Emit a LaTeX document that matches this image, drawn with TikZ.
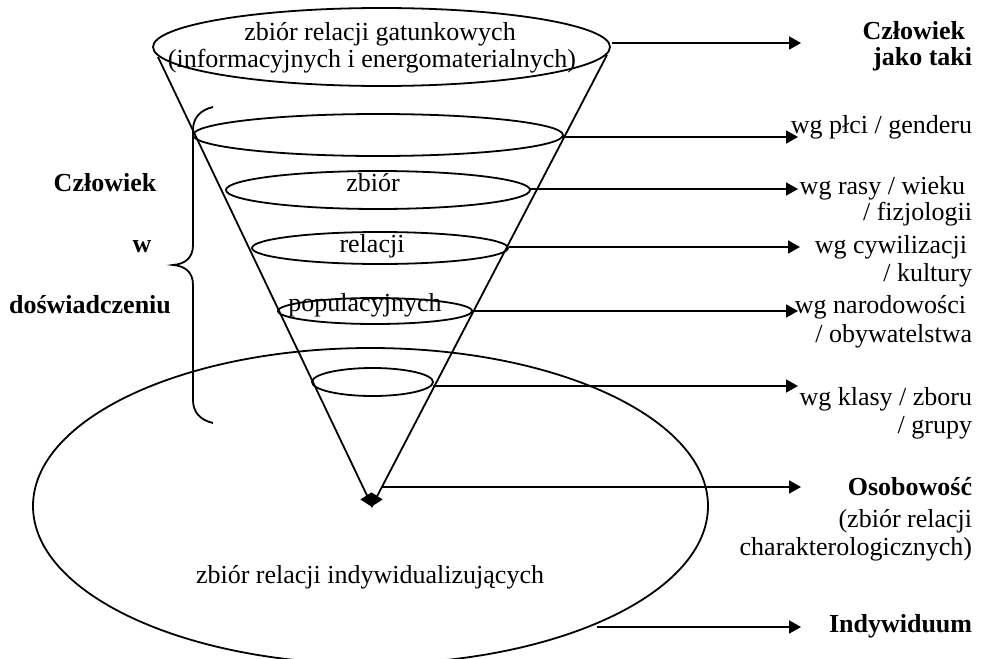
\documentclass[tikz,border=0pt]{standalone}
\usepackage{fontspec}
\setmainfont{Liberation Serif}
\usetikzlibrary{shapes.geometric,arrows.meta}
\begin{document}
\begin{tikzpicture}[x=0.5pt,y=-0.5pt,line width=0.9pt,
  ell/.style={draw,ellipse,inner sep=0pt,outer sep=0pt},
  txt/.style={inner sep=0pt,font=\fontsize{13}{15}\selectfont},
  btxt/.style={inner sep=0pt,font=\fontsize{13}{15}\selectfont\bfseries},
  rtxt/.style={txt,anchor=base east},
  brtxt/.style={btxt,anchor=base east},
  arr/.style={-{Triangle[length=6pt,width=6.5pt]}}]
\useasboundingbox (0,0) rectangle (981,659);
% big ellipse
\node[ell,minimum width=337.5pt,minimum height=158pt] (big) at (370.5,506) {};
% cone
\coordinate (L) at (158,57);
\coordinate (R) at (607,55);
\coordinate (apex) at (372,506);
\draw (L) -- (apex) -- (R);
% ellipses
\node[ell,minimum width=228.5pt,minimum height=39pt] (e1) at (381.5,47) {};
\node[ell,minimum width=185pt,minimum height=21pt] (e2) at (378,135) {};
\node[ell,minimum width=152pt,minimum height=19pt] (e3) at (378,190) {};
\node[ell,minimum width=128pt,minimum height=16pt] (e4) at (380,248) {};
\node[ell,minimum width=97pt,minimum height=13pt] (e5) at (375,311) {};
\node[ell,minimum width=60.5pt,minimum height=14pt] (e6) at (372.5,382) {};
\node[diamond,fill=black,inner sep=0pt,minimum width=11.5pt,minimum height=7.5pt] (dia) at (371.5,499.5) {};
% texts in ellipses
\node[txt,anchor=base] (t1a) at (380,40) {zbiór relacji gatunkowych};
\node[txt,anchor=base] (t1b) at (372,67) {(informacyjnych i energomaterialnych)};
\node[txt,anchor=base] (t3) at (373,191) {zbiór};
\node[txt,anchor=base] (t4) at (372,252) {relacji};
\node[txt,anchor=base] (t5) at (365,311) {populacyjnych};
\node[txt,anchor=base] (tbig) at (370,583) {zbiór relacji indywidualizujących};
% brace
\draw (213,107) .. controls (200,110) and (193,118) .. (193,130) -- (193,245)
  .. controls (193,258) and (185,264) .. (173,265)
  .. controls (185,266) and (193,272) .. (193,285) -- (193,400)
  .. controls (193,412) and (200,420) .. (213,423);
% left texts
\node[btxt,anchor=base] (lc) at (105,191) {Człowiek};
\node[btxt,anchor=base] (lw) at (142,252) {w};
\node[btxt,anchor=base] (ld) at (90,313) {doświadczeniu};
% right texts
\node[brtxt] (r1a) at (966,39) {Człowiek};
\node[brtxt] (r1b) at (973,65) {jako taki};
\node[rtxt] (r2) at (973,133) {wg płci / genderu};
\node[rtxt] (r3a) at (966,194) {wg rasy / wieku};
\node[rtxt] (r3b) at (973,220) {/ fizjologii};
\node[rtxt] (r4a) at (968,253) {wg cywilizacji};
\node[rtxt] (r4b) at (973,281) {/ kultury};
\node[rtxt] (r5a) at (967,313) {wg narodowości};
\node[rtxt] (r5b) at (973,342) {/ obywatelstwa};
\node[rtxt] (r6a) at (973,405) {wg klasy / zboru};
\node[rtxt] (r6b) at (973,433) {/ grupy};
\node[brtxt] (r7a) at (973,495) {Osobowość};
\node[rtxt] (r7b) at (973,527) {(zbiór relacji};
\node[rtxt] (r7c) at (973,555) {charakterologicznych)};
\node[brtxt] (r8) at (973,632) {Indywiduum};
% arrow end points
\coordinate (a1) at (801,43);
\coordinate (a2) at (798,137);
\coordinate (a3) at (798,189);
\coordinate (a4) at (800,247);
\coordinate (a5) at (798,311);
\coordinate (a6) at (798,386);
\coordinate (a7) at (801,487);
\coordinate (a8) at (801,627);
\coordinate (s1) at (612,43);
\coordinate (s2) at (563,137);
\coordinate (s3) at (530,189);
\coordinate (s4) at (509,247);
\coordinate (s5) at (472,311);
\coordinate (s6) at (433,386);
\coordinate (s7) at (382,487);
\coordinate (s8) at (597,627);
% arrows
\draw[arr] (s1) -- (a1);
\draw[arr] (s2) -- (a2);
\draw[arr] (s3) -- (a3);
\draw[arr] (s4) -- (a4);
\draw[arr] (s5) -- (a5);
\draw[arr] (s6) -- (a6);
\draw[arr] (s7) -- (a7);
\draw[arr] (s8) -- (a8);
\end{tikzpicture}
\end{document}
